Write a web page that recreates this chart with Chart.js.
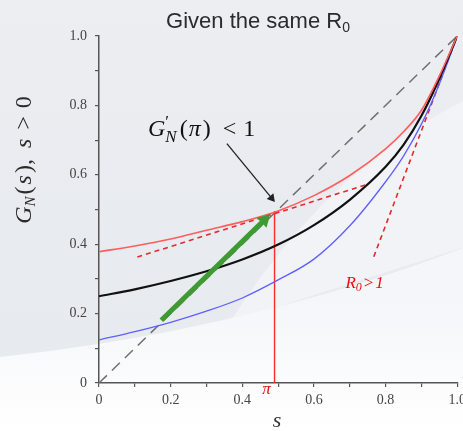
<!DOCTYPE html>
<html>
<head>
<meta charset="utf-8">
<script src="https://cdn.jsdelivr.net/npm/chart.js@4.4.0/dist/chart.umd.min.js"></script>
<style>
  html, body { margin: 0; padding: 0; overflow: hidden; background: #fff; width: 463px; height: 431px; }
  canvas { display: block; }
</style>
</head>
<body>
<canvas id="c" width="471" height="431"></canvas>
<script>
// values
const sVals     = [0, 0.1, 0.2, 0.3, 0.4, 0.5, 0.6, 0.7, 0.8, 0.85, 0.9, 0.95, 1.0];
const redVals   = [0.378, 0.395, 0.415, 0.44, 0.465, 0.496, 0.54, 0.598, 0.675, 0.724, 0.786, 0.885, 1.0];
const blackVals = [0.25, 0.27, 0.294, 0.322, 0.356, 0.399, 0.455, 0.528, 0.623, 0.686, 0.77, 0.877, 1.0];
const blueVals  = [0.124, 0.148, 0.175, 0.207, 0.245, 0.297, 0.357, 0.453, 0.58, 0.654, 0.746, 0.862, 1.0];

const diagS = [0, 1];
const diagG = [0, 1];
const piTanS = [0.107, 0.744];      // tangent at pi
const piTanG = [0.363, 0.571];
const oneTanS = [0.767, 1.0];       // tangent at s = 1 (R0 > 1)
const oneTanG = [0.364, 1.0];
const piS = [0.49, 0.49];           // vertical line at pi
const piG = [0, 0.496];
const greenS = [0.174, 0.462];      // green iteration arrow
const greenG = [0.181, 0.470];
const calloutS = [0.357, 0.482];    // black callout arrow
const calloutG = [0.69, 0.533];

const xTickLabels = ['0', '0.2', '0.4', '0.6', '0.8', '1.0'];
const yTickLabels = ['0', '0.2', '0.4', '0.6', '0.8', '1.0'];

const pts = (xs, ys) => xs.map((x, i) => ({ x: x, y: ys[i] }));

const SERIF = '"Liberation Serif", "DejaVu Serif", serif';
const SANS = '"Liberation Sans", Arial, sans-serif';

// draw text runs side by side; {t, font, dy, stack, gap}
function runs(ctx, x, y, list, align, color) {
  const widths = list.map(r => {
    ctx.font = r.font;
    return (r.stack ? 0 : ctx.measureText(r.t).width) + (r.gap || 0);
  });
  const total = widths.reduce((a, b) => a + b, 0);
  let cx = align === 'center' ? x - total / 2 : x;
  list.forEach((r, i) => {
    ctx.font = r.font;
    ctx.fillStyle = r.color || color || '#222';
    ctx.fillText(r.t, cx, y + (r.dy || 0));
    cx += widths[i];
  });
}

const bgPlugin = {
  id: 'bg',
  beforeDraw(chart) {
    const ctx = chart.ctx, W = chart.width, H = chart.height;
    ctx.save();
    const g = ctx.createLinearGradient(0, 0, 0, H);
    g.addColorStop(0, '#eceef2');
    g.addColorStop(0.5, '#e8ebef');
    g.addColorStop(1, '#e7eaef');
    ctx.fillStyle = g;
    ctx.fillRect(0, 0, W, H);
    // lighter swoosh on the right
    ctx.fillStyle = 'rgba(245,246,249,0.7)';
    ctx.beginPath();
    ctx.moveTo(230, 322);
    ctx.quadraticCurveTo(330, 165, W, 97);
    ctx.lineTo(W, 245);
    ctx.closePath();
    ctx.fill();
    // white lower part
    const g2 = ctx.createLinearGradient(0, 300, 0, H);
    g2.addColorStop(0, '#f5f6f9');
    g2.addColorStop(1, '#ffffff');
    ctx.fillStyle = g2;
    ctx.beginPath();
    ctx.moveTo(0, 357);
    ctx.quadraticCurveTo(250, 330, W, 245);
    ctx.lineTo(W, H);
    ctx.lineTo(0, H);
    ctx.closePath();
    ctx.fill();
    ctx.restore();
  }
};

const textPlugin = {
  id: 'texts',
  afterDraw(chart) {
    const ctx = chart.ctx;
    const xs = chart.scales.x, ys = chart.scales.y;
    ctx.save();
    ctx.textBaseline = 'alphabetic';
    ctx.textAlign = 'left';

    // title
    runs(ctx, 258, 28, [
      { t: 'Given the same R', font: '22px ' + SANS },
      { t: '0', font: '14px ' + SANS, dy: 4 }
    ], 'center', '#2b2b2b');

    // G'_N(pi) < 1
    runs(ctx, 148, 136, [
      { t: 'G', font: 'italic 24px ' + SERIF },
      { t: '\u2032', font: '17px ' + SERIF, dy: -9, stack: true },
      { t: 'N', font: 'italic 17px ' + SERIF, dy: 6, gap: 3 },
      { t: '(', font: '24px ' + SERIF, gap: 1 },
      { t: '\u03c0', font: 'italic 24px ' + SERIF, gap: 2 },
      { t: ')', font: '24px ' + SERIF, gap: 12 },
      { t: '<', font: '24px ' + SERIF, gap: 7 },
      { t: '1', font: '24px ' + SERIF }
    ], 'left', '#111');

    // y axis title
    ctx.save();
    ctx.translate(31, 160);
    ctx.rotate(-Math.PI / 2);
    runs(ctx, 0, 0, [
      { t: 'G', font: 'italic 24px ' + SERIF },
      { t: 'N', font: 'italic 15px ' + SERIF, dy: 4, gap: 2 },
      { t: '(', font: '24px ' + SERIF, gap: 2 },
      { t: 's', font: 'italic 24px ' + SERIF, gap: 2 },
      { t: ')', font: '24px ' + SERIF },
      { t: ',', font: '24px ' + SERIF, gap: 11 },
      { t: 's', font: 'italic 24px ' + SERIF, gap: 9 },
      { t: '>', font: '24px ' + SERIF, gap: 8 },
      { t: '0', font: '24px ' + SERIF }
    ], 'center', '#2a2a2a');
    ctx.restore();

    // x axis title
    runs(ctx, 277, 427, [{ t: 's', font: 'italic 22px ' + SERIF }], 'center', '#333');

    // pi label under the axis
    runs(ctx, xs.getPixelForValue(piS[0]) - 8, 394, [{ t: '\u03c0', font: 'italic 17px ' + SERIF }], 'center', '#e01010');

    // R0 > 1 label
    runs(ctx, xs.getPixelForValue(0.688), ys.getPixelForValue(0.275), [
      { t: 'R', font: 'italic 17px ' + SERIF },
      { t: '0', font: 'italic 12px ' + SERIF, dy: 3, gap: 1 },
      { t: '>', font: 'italic 17px ' + SERIF, gap: 1 },
      { t: '1', font: 'italic 17px ' + SERIF }
    ], 'left', '#e01010');
    ctx.restore();
  }
};

const lineDs = (label, data, color, width, extra) => Object.assign({
  label: label, data: data, showLine: true, borderColor: color, backgroundColor: color,
  borderWidth: width, pointRadius: 0, fill: false
}, extra || {});

new Chart(document.getElementById('c'), {
  type: 'scatter',
  data: {
    datasets: [
      lineDs('callout', pts(calloutS, calloutG), '#222', 1.3,
        { pointRadius: [0, 5], pointStyle: 'triangle', rotation: 140, pointBorderWidth: 0, order: 0 }),
      lineDs('tangent pi', pts(piTanS, piTanG), '#e82a2a', 1.6, { borderDash: [5, 4], order: 2 }),
      lineDs('red', pts(sVals, redVals), '#ff5c5c', 1.6, { cubicInterpolationMode: 'monotone', order: 3 }),
      lineDs('green', pts(greenS, greenG), '#3d9b32', 5,
        { pointRadius: [0, 8], pointStyle: 'triangle', rotation: 45, pointBorderWidth: 0, order: 1 }),
      lineDs('black', pts(sVals, blackVals), '#111111', 2.2, { cubicInterpolationMode: 'monotone', order: 4 }),
      lineDs('blue', pts(sVals, blueVals), '#5f5fff', 1.3, { cubicInterpolationMode: 'monotone', order: 5 }),
      lineDs('tangent 1', pts(oneTanS, oneTanG), '#e02a2a', 1.6, { borderDash: [5, 4], order: 6 }),
      lineDs('pi', pts(piS, piG), '#ff2a2a', 1.4, { order: 7 }),
      lineDs('diagonal', pts(diagS, diagG), '#707070', 1.5, { borderDash: [11, 7], order: 8 })
    ]
  },
  options: {
    responsive: false,
    animation: false,
    devicePixelRatio: 1,
    layout: { padding: { top: 36, right: 0, left: 0, bottom: 0 } },
    plugins: { legend: { display: false }, tooltip: { enabled: false } },
    scales: {
      x: {
        type: 'linear', min: 0, max: 1,
        afterFit(s) { s.height = 48; },
        ticks: {
          stepSize: 0.1, autoSkip: false, maxRotation: 0, padding: 5,
          color: '#444', font: { family: 'Liberation Serif', size: 14 },
          callback: (v, i) => i % 2 === 0 ? xTickLabels[i / 2] : ''
        },
        grid: { drawOnChartArea: false, tickLength: 4, color: '#555', lineWidth: 1.2 },
        border: { color: '#555', width: 1.5 }
      },
      y: {
        type: 'linear', min: 0, max: 1,
        afterFit(s) { s.width = 99; },
        ticks: {
          stepSize: 0.1, autoSkip: false, padding: 8,
          color: '#444', font: { family: 'Liberation Serif', size: 14 },
          callback: (v, i) => i % 2 === 0 ? yTickLabels[i / 2] : ''
        },
        grid: { drawOnChartArea: false, tickLength: 4, color: '#555', lineWidth: 1.2 },
        border: { color: '#555', width: 1.5 }
      }
    }
  },
  plugins: [bgPlugin, textPlugin]
});
</script>
</body>
</html>
